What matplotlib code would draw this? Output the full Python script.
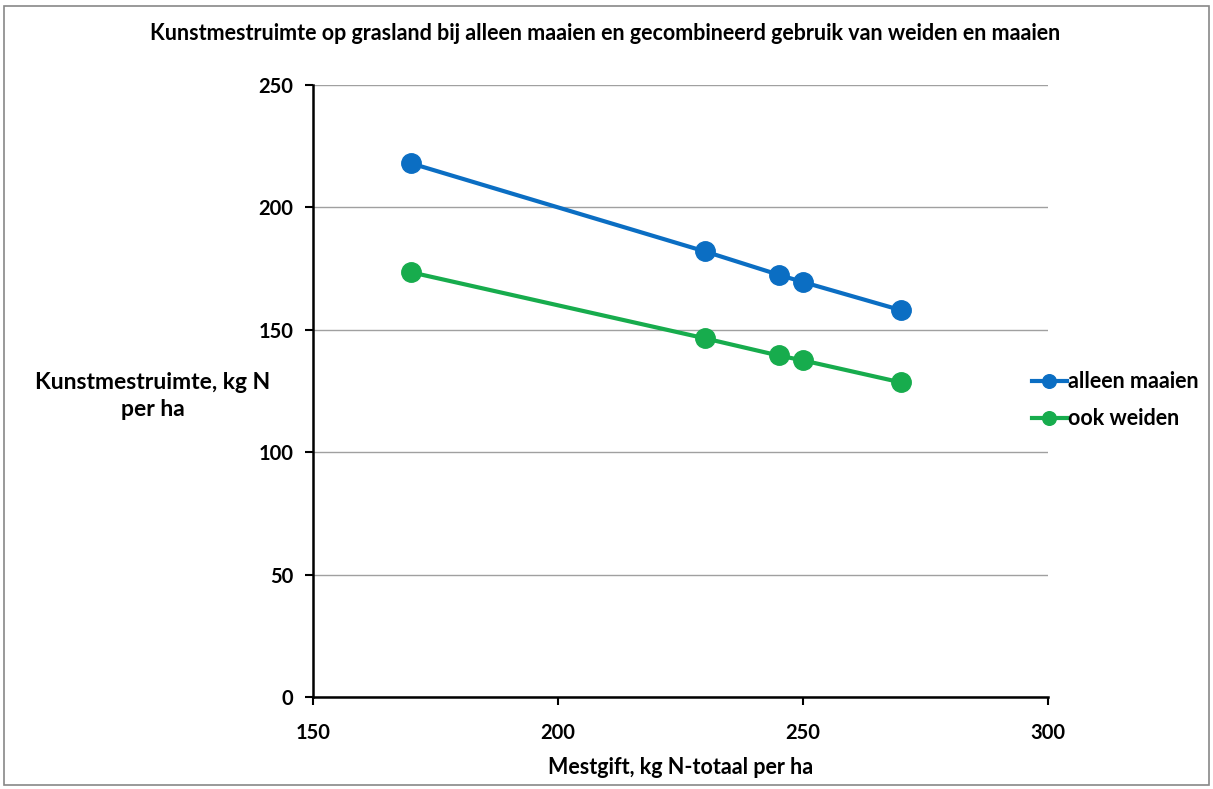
import matplotlib
matplotlib.use("Agg")
import matplotlib.pyplot as plt
from matplotlib.patches import Rectangle

plt.rcParams['font.family'] = ['Lato', 'DejaVu Sans']

mestgift = [170, 230, 245, 250, 270]
alleen_maaien = [218, 182, 172.5, 169.5, 158]
ook_weiden = [173.5, 146.5, 139.5, 137.5, 128.5]
x_ticks = [150, 200, 250, 300]
y_ticks = [0, 50, 100, 150, 200, 250]

fig = plt.figure(figsize=(12.13, 7.89), dpi=100)
ax = fig.add_axes([0.258, 0.1166, 0.606, 0.7757])

ax.plot(mestgift, alleen_maaien, color='#0B6EC3', lw=3, marker='o', ms=14,
        label='alleen maaien', zorder=3)
ax.plot(mestgift, ook_weiden, color='#17AC4D', lw=3, marker='o', ms=14,
        label='ook weiden', zorder=3)

ax.set_xlim(150, 300)
ax.set_ylim(0, 250)
ax.set_xticks(x_ticks)
ax.set_yticks(y_ticks)
ax.yaxis.grid(True, color='#A0A0A0', lw=1)
ax.set_axisbelow(True)
for s in ['top', 'right']:
    ax.spines[s].set_visible(False)
for s in ['left', 'bottom']:
    ax.spines[s].set_linewidth(1.8)
    ax.spines[s].set_color('black')
ax.tick_params(axis='both', direction='out', length=6, width=1.5, labelsize=14.5)
ax.tick_params(axis='x', pad=13)
ax.tick_params(axis='y', pad=8)
for lab in ax.get_xticklabels() + ax.get_yticklabels():
    lab.set_fontweight('bold')

ax.set_xlabel('Mestgift, kg N-totaal per ha', fontsize=15.5, fontweight='bold', labelpad=10)
fig.text(0.126, 0.498, 'Kunstmestruimte, kg N\nper ha', ha='center', va='center',
         fontsize=16.5, fontweight='bold', linespacing=1.4)
fig.text(0.499, 0.958, 'Kunstmestruimte op grasland bij alleen maaien en gecombineerd gebruik van weiden en maaien',
         ha='center', va='center', fontsize=15.5, fontweight='bold')

leg = ax.legend(loc='center left', bbox_to_anchor=(0.952, 0.485), frameon=False,
                fontsize=15.5, handlelength=1.6, handletextpad=0.05, markerscale=0.7,
                labelspacing=0.75)
for t in leg.get_texts():
    t.set_fontweight('bold')

fig.patches.append(Rectangle((0.003, 0.005), 0.994, 0.987, transform=fig.transFigure,
                             fill=False, edgecolor='#888888', lw=1.2))

fig.savefig('out.png', dpi=100)
